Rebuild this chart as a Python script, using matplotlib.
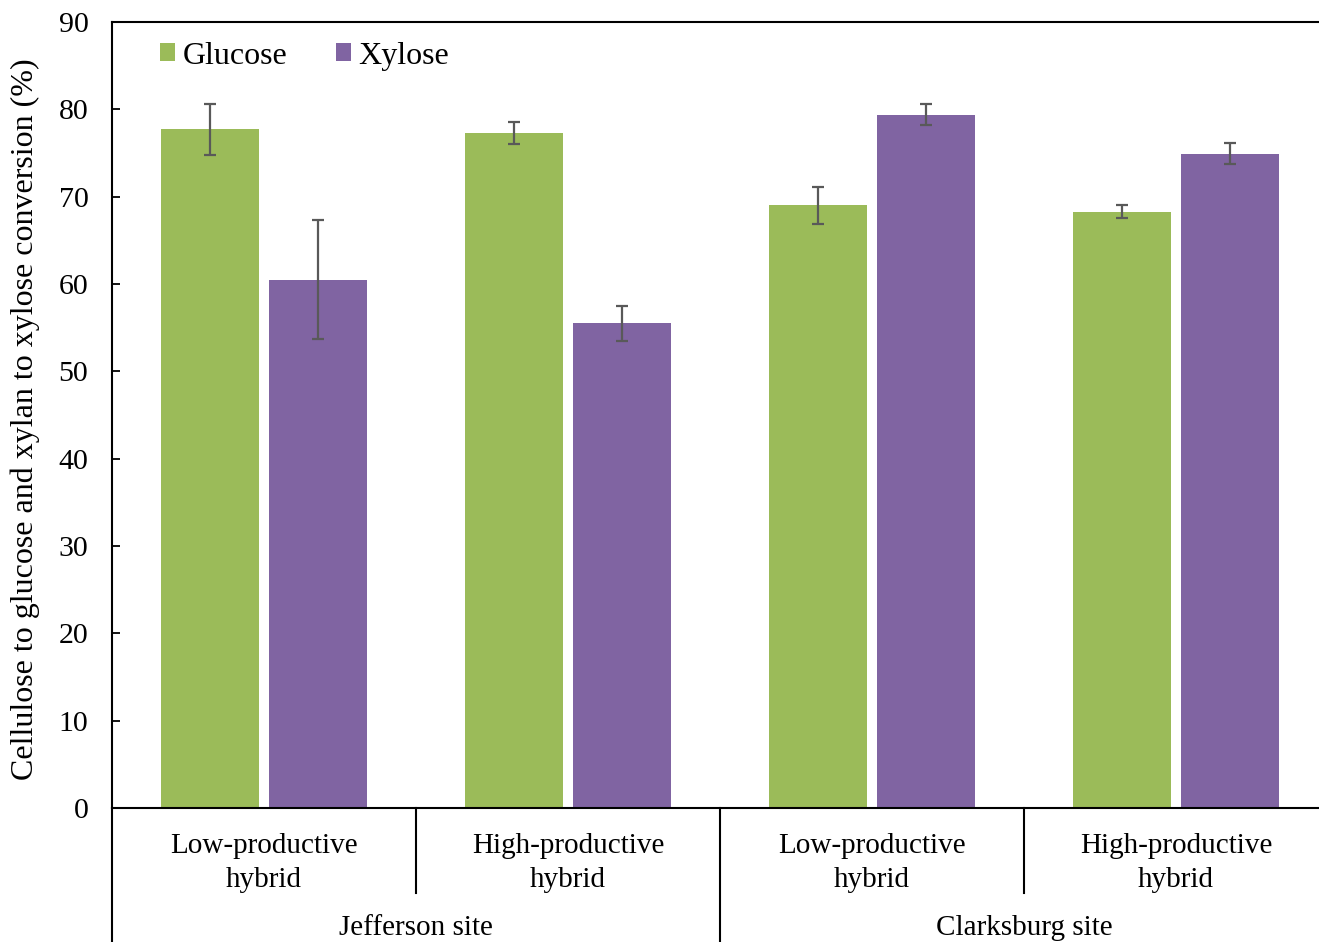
import numpy as np
import matplotlib
matplotlib.use("Agg")
import matplotlib.pyplot as plt

# data
hybrids = ["Low-productive\nhybrid", "High-productive\nhybrid",
           "Low-productive\nhybrid", "High-productive\nhybrid"]
sites = ["Jefferson site", "Clarksburg site"]
glucose = [77.7, 77.3, 69.0, 68.3]
glucose_err = [2.9, 1.3, 2.1, 0.7]
xylose = [60.5, 55.5, 79.4, 74.9]
xylose_err = [6.8, 2.0, 1.2, 1.2]

plt.rcParams["font.family"] = ["Liberation Serif", "DejaVu Serif"]
plt.rcParams["font.size"] = 21

green = "#9BBB59"
purple = "#8064A2"
errc = "#595959"

fig = plt.figure(figsize=(13.19, 9.42), dpi=100)
ax = fig.add_axes([112 / 1319, 134 / 942, 1216 / 1319, 786 / 942])

x = np.arange(len(hybrids))
w = 0.322
off = 0.178
ax.bar(x - off, glucose, w, color=green, label="Glucose", zorder=2)
ax.bar(x + off, xylose, w, color=purple, label="Xylose", zorder=2)
ax.errorbar(x - off, glucose, yerr=glucose_err, fmt="none", ecolor=errc,
            elinewidth=1.6, capsize=4.5, capthick=1.6, zorder=3)
ax.errorbar(x + off, xylose, yerr=xylose_err, fmt="none", ecolor=errc,
            elinewidth=1.6, capsize=4.5, capthick=1.6, zorder=3)

ax.set_xlim(-0.5, 3.5)
ax.set_ylim(0, 90)
ax.set_yticks(np.arange(0, 91, 10))
ax.tick_params(axis="y", direction="in", length=6, width=1.3, pad=17, labelsize=21.5)
ax.set_xticks([])
ax.set_ylabel("Cellulose to glucose and xylan to xylose conversion (%)", fontsize=23)
ax.yaxis.set_label_coords(-0.059, 0.495)
ax.spines["right"].set_visible(False)
for s in ["left", "bottom", "top"]:
    ax.spines[s].set_linewidth(1.5)

# two-level category axis below the plot
tr = ax.get_xaxis_transform()
ax.plot([-0.5, -0.5], [0, -0.2], color="black", lw=1.5, transform=tr, clip_on=False)
for xd in [0.5, 2.5]:
    ax.plot([xd, xd], [0, -0.108], color="black", lw=1.5, transform=tr, clip_on=False)
ax.plot([1.5, 1.5], [0, -0.2], color="black", lw=1.5, transform=tr, clip_on=False)
for i, lab in enumerate(hybrids):
    ax.text(i, -0.070, lab, transform=tr, ha="center", va="center",
            fontsize=21, linespacing=1.36)
for j, lab in enumerate(sites):
    ax.text(2 * j + 0.5, -0.169, lab, transform=tr, ha="center", va="bottom", fontsize=21)

ax.legend(loc="upper left", bbox_to_anchor=(0.0395, 0.975), ncol=2, frameon=False,
          borderpad=0, borderaxespad=0,
          handlelength=0.47, handleheight=0.47, handletextpad=0.25, columnspacing=1.5,
          fontsize=23)

fig.savefig("out.png", dpi=100)
